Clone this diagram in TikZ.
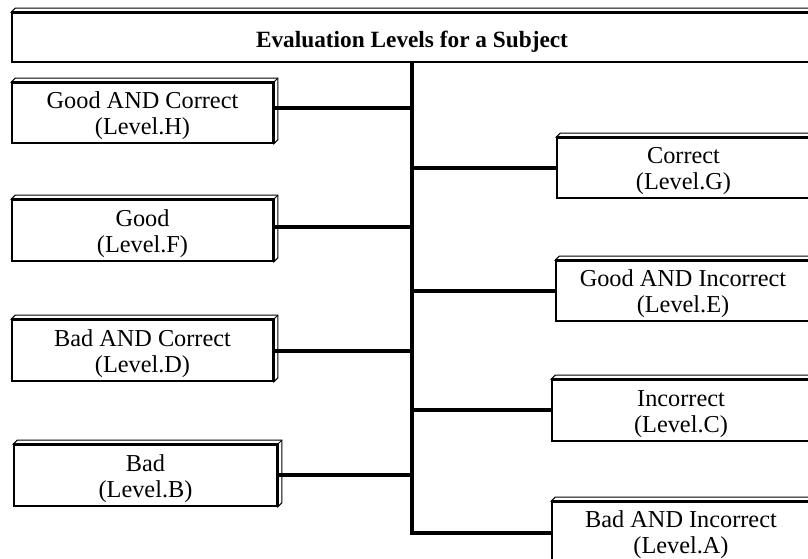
\documentclass[tikz,border=0pt]{standalone}
\usepackage{fontspec}
\setmainfont{Liberation Serif}
\newcommand{\lvltext}[2]{\raisebox{-3.5pt}[\height][\depth]{\begin{tabular}{@{}c@{}}#1\\#2\end{tabular}}}
\begin{document}
\begin{tikzpicture}[x=1pt,y=-1pt,
  levelbox/.style={draw, fill=white, line width=1.6pt, rectangle, inner sep=0pt,
    font=\fontsize{24.3}{26}\selectfont},
  face/.style={draw, fill=white, line width=1pt, line join=miter},
  conn/.style={line width=3.6pt}]
\useasboundingbox (0,0) rectangle (808,559);
\clip (0,0) rectangle (808,559);
% nodes
\node[levelbox, minimum width=800pt, minimum height=49pt, font=\fontsize{23.3}{27}\selectfont\bfseries] (t) at (412,37.5) {\raisebox{-4pt}[\height][\depth]{Evaluation Levels for a Subject}};
\node[levelbox, minimum width=261pt, minimum height=60pt] (h) at (142.5,113) {\lvltext{Good AND Correct}{(Level.H)}};
\node[levelbox, minimum width=261pt, minimum height=61pt] (f) at (142.5,230.5) {\lvltext{Good}{(Level.F)}};
\node[levelbox, minimum width=261pt, minimum height=61pt] (d) at (142.5,350.5) {\lvltext{Bad AND Correct}{(Level.D)}};
\node[levelbox, minimum width=263pt, minimum height=61pt] (b) at (145.5,475.5) {\lvltext{Bad}{(Level.B)}};
\node[levelbox, minimum width=253pt, minimum height=60pt] (g) at (683.5,168) {\lvltext{Correct}{(Level.G)}};
\node[levelbox, minimum width=254pt, minimum height=60pt] (e) at (683,291) {\lvltext{Good AND Incorrect}{(Level.E)}};
\node[levelbox, minimum width=258pt, minimum height=61pt] (c) at (681,410.5) {\lvltext{Incorrect}{(Level.C)}};
\node[levelbox, minimum width=258pt, minimum height=60pt] (a) at (681,532) {\lvltext{Bad AND Incorrect}{(Level.A)}};
% 3D faces
\foreach \n in {t,h,f,d,b,g,e,c,a}{
  \draw[face] (\n.north west) -- ++(4,-4) -- ([shift={(4,-4)}]\n.north east)
     -- ([shift={(4,-4)}]\n.south east) -- (\n.south east) -- (\n.north east) -- cycle;
  \draw[line width=1pt] (\n.north east) -- ++(4,-4);
  \draw[line width=1.6pt] (\n.north west) -- (\n.north east) -- (\n.south east);
}
% trunk junctions
\coordinate (jh) at (412,108);
\coordinate (jf) at (412,227);
\coordinate (jd) at (412,351);
\coordinate (jb) at (412,475);
\coordinate (jg) at (412,168);
\coordinate (je) at (412,291);
\coordinate (jc) at (412,410);
\coordinate (ja) at (412,533);
\draw[conn] (t.south -| ja) -- ([yshift=1.8pt]ja);
\foreach \j/\n in {jh/h,jf/f,jd/d,jb/b}{
  \draw[conn] (\j) -- (\j -| \n.east);
}
\foreach \j/\n in {jg/g,je/e,jc/c,ja/a}{
  \draw[conn] ([xshift=-1.8pt]\j) -- (\j -| \n.west);
}
\end{tikzpicture}
\end{document}
